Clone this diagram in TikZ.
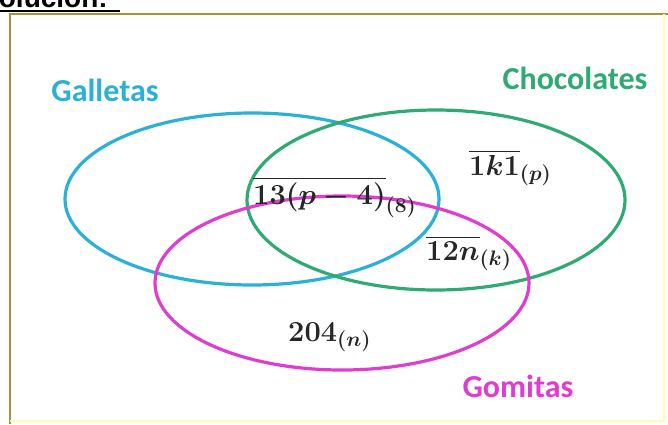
\RequirePackage{fix-cm}
\documentclass[tikz,border=0pt]{standalone}
\usepackage{fontspec}
\usepackage{amsmath}
\usepackage{bm}
\DeclareMathSizes{29}{29}{21}{16}
\newfontfamily\lblfont{Carlito}
\newfontfamily\headfont{Liberation Sans}
\definecolor{gcyan}{HTML}{2BB0D6}
\definecolor{cgreen}{HTML}{2FAA74}
\definecolor{gmag}{HTML}{E03CCF}
\definecolor{frameg}{HTML}{A8913A}
\tikzset{
  setline/.style={line width=3.2pt},
  setlabel/.style={font=\lblfont\bfseries\fontsize{32}{36}\selectfont, inner sep=0pt},
  val/.style={font=\fontsize{29}{34}\selectfont\boldmath, inner sep=0pt, text=black!85}
}
\begin{document}
\begin{tikzpicture}[x=1pt,y=-1pt]
\useasboundingbox (0,0) rectangle (668,424);
\clip (0,0) rectangle (668,424);
\fill[white] (0,0) rectangle (668,424);
% heading (cut off at top)
\node[anchor=base west, inner sep=0pt, font=\headfont\bfseries\fontsize{28}{32}\selectfont] (head) at (-20,7) {Solución:};
\draw[line width=2.5pt, black] (0,11) -- (120,11);
% frame
\draw[frameg, line width=2.5pt] (10,424) -- (10,14) -- (668,14);
\draw[yellow!30, line width=1.5pt] (664,14) -- (664,421) -- (10,421);
% sets
\draw[setline, gcyan] (252,199) ellipse [x radius=187, y radius=86];
\draw[setline, cgreen] (436,200) ellipse [x radius=189, y radius=90];
\draw[setline, gmag] (342,283) ellipse [x radius=187, y radius=87];
% labels
\node[setlabel, text=gcyan] (lg) at (105,90) {Galletas};
\node[setlabel, text=cgreen] (lc) at (575,78) {Chocolates};
\node[setlabel, text=gmag] (lm) at (518,386) {Gomitas};
% values
\node[val, anchor=base west] (v1) at (253,204) {$\overline{13(p-4)}_{(8)}$};
\node[val, anchor=base west] (v2) at (469,175) {$\overline{1k1}_{(p)}$};
\node[val, anchor=base west] (v3) at (426,260) {$\overline{12n}_{(k)}$};
\node[val, anchor=base west] (v4) at (288,341) {$204_{(n)}$};
\end{tikzpicture}
\end{document}
